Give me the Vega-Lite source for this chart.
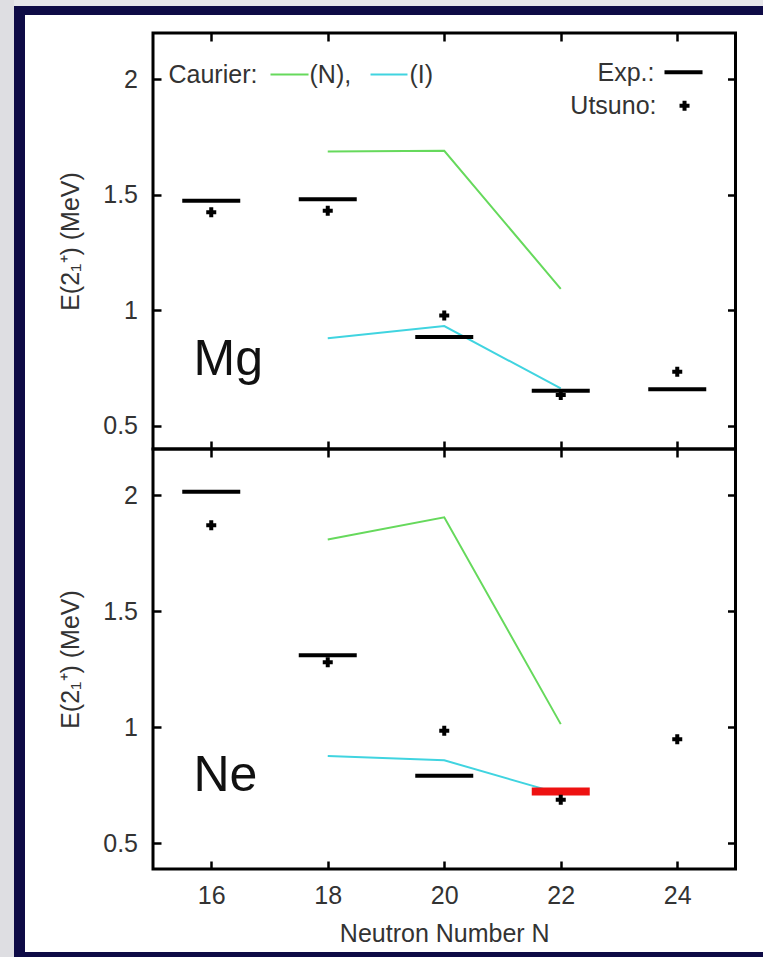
{
  "$schema": "https://vega.github.io/schema/vega-lite/v6.json",
  "background": "white",
  "padding": 0,
  "spacing": 0,
  "bounds": "flush",
  "config": {
    "view": {"stroke": null},
    "concat": {"spacing": 0},
    "axis": {
      "domain": false, "grid": false,
      "tickColor": "black", "tickWidth": 2.5, "tickSize": -8,
      "labelFont": "Liberation Sans", "labelFontSize": 25, "labelColor": "#333333",
      "titleFont": "Liberation Sans", "titleFontSize": 25, "titleFontWeight": "normal", "titleColor": "#333333"
    },
    "text": {"font": "Liberation Sans"}
  },
  "datasets": {
    "rows": [
      {"nucleus": "Mg", "source": "Exp", "N": 16, "E": 1.474},
      {"nucleus": "Mg", "source": "Exp", "N": 18, "E": 1.481},
      {"nucleus": "Mg", "source": "Exp", "N": 20, "E": 0.885},
      {"nucleus": "Mg", "source": "Exp", "N": 22, "E": 0.652},
      {"nucleus": "Mg", "source": "Exp", "N": 24, "E": 0.659},
      {"nucleus": "Mg", "source": "Utsuno", "N": 16, "E": 1.424},
      {"nucleus": "Mg", "source": "Utsuno", "N": 18, "E": 1.431},
      {"nucleus": "Mg", "source": "Utsuno", "N": 20, "E": 0.978},
      {"nucleus": "Mg", "source": "Utsuno", "N": 22, "E": 0.634},
      {"nucleus": "Mg", "source": "Utsuno", "N": 24, "E": 0.734},
      {"nucleus": "Mg", "source": "Caurier", "model": "N", "N": 18, "E": 1.687},
      {"nucleus": "Mg", "source": "Caurier", "model": "N", "N": 20, "E": 1.69},
      {"nucleus": "Mg", "source": "Caurier", "model": "N", "N": 22, "E": 1.093},
      {"nucleus": "Mg", "source": "Caurier", "model": "I", "N": 18, "E": 0.879},
      {"nucleus": "Mg", "source": "Caurier", "model": "I", "N": 20, "E": 0.932},
      {"nucleus": "Mg", "source": "Caurier", "model": "I", "N": 22, "E": 0.662},
      {"nucleus": "Ne", "source": "Exp", "N": 16, "E": 2.016},
      {"nucleus": "Ne", "source": "Exp", "N": 18, "E": 1.31},
      {"nucleus": "Ne", "source": "Exp", "N": 20, "E": 0.79},
      {"nucleus": "Ne", "source": "Exp", "status": "new", "N": 22, "E": 0.722},
      {"nucleus": "Ne", "source": "Utsuno", "N": 16, "E": 1.871},
      {"nucleus": "Ne", "source": "Utsuno", "N": 18, "E": 1.28},
      {"nucleus": "Ne", "source": "Utsuno", "N": 20, "E": 0.984},
      {"nucleus": "Ne", "source": "Utsuno", "N": 22, "E": 0.687},
      {"nucleus": "Ne", "source": "Utsuno", "N": 24, "E": 0.948},
      {"nucleus": "Ne", "source": "Caurier", "model": "N", "N": 18, "E": 1.81},
      {"nucleus": "Ne", "source": "Caurier", "model": "N", "N": 20, "E": 1.905},
      {"nucleus": "Ne", "source": "Caurier", "model": "N", "N": 22, "E": 1.013},
      {"nucleus": "Ne", "source": "Caurier", "model": "I", "N": 18, "E": 0.875},
      {"nucleus": "Ne", "source": "Caurier", "model": "I", "N": 20, "E": 0.857},
      {"nucleus": "Ne", "source": "Caurier", "model": "I", "N": 22, "E": 0.712}
    ]
  },
  "hconcat": [
    {"width": 14, "height": 957, "view": {"fill": "#dedee2", "stroke": null}, "data": {"values": [{"band": "left"}]}, "mark": {"type": "point", "opacity": 0}, "encoding": {}},
    {
      "spacing": 0, "bounds": "flush",
      "vconcat": [
        {"width": 749, "height": 6, "view": {"fill": "#e6e6ea", "stroke": null}, "data": {"values": [{"band": "top"}]}, "mark": {"type": "point", "opacity": 0}, "encoding": {}},
        {"width": 749, "height": 9, "view": {"fill": "#0e0b46", "stroke": null}, "data": {"values": [{"band": "top"}]}, "mark": {"type": "point", "opacity": 0}, "encoding": {}},
        {
          "spacing": 0, "bounds": "flush",
          "hconcat": [
            {"width": 11, "height": 942, "view": {"fill": "#0e0b46", "stroke": null}, "data": {"values": [{"band": "left"}]}, "mark": {"type": "point", "opacity": 0}, "encoding": {}},
            {
              "spacing": 0, "bounds": "flush",
              "vconcat": [
                {"width": 738, "height": 18, "data": {"values": [{"band": "gap"}]}, "mark": {"type": "point", "opacity": 0}, "encoding": {}},
                {
                  "spacing": 0, "bounds": "flush",
                  "hconcat": [
                    {"width": 127.5, "height": 836, "data": {"values": [{"band": "gap"}]}, "mark": {"type": "point", "opacity": 0}, "encoding": {}},
                    {
                      "spacing": 0, "bounds": "flush",
                      "vconcat": [
                        {
                          "width": 582.5, "height": 416,
                          "view": {"stroke": "black", "strokeWidth": 3},
                          "data": {"name": "rows"},
                          "transform": [{"filter": "datum.nucleus === 'Mg'"}],
                          "resolve": {"axis": {"x": "independent", "y": "independent"}},
                          "layer": [
                            {
                              "transform": [{"filter": "datum.source === 'Caurier'"}],
                              "mark": {"type": "line", "strokeWidth": 2},
                              "encoding": {
                                "x": {"field": "N", "type": "quantitative", "scale": {"domain": [15, 25], "nice": false, "zero": false},
                                      "axis": {"orient": "bottom", "values": [16, 18, 20, 22, 24], "labels": false, "title": null}},
                                "y": {"field": "E", "type": "quantitative", "scale": {"domain": [0.4, 2.2], "nice": false, "zero": false},
                                      "axis": {"orient": "left", "values": [0.5, 1, 1.5, 2], "format": "~g", "labelPadding": 23.5, "title": "E(2₁⁺)  (MeV)", "titlePadding": 19}},
                                "color": {"field": "model", "type": "nominal", "scale": {"domain": ["N", "I"], "range": ["#66d95c", "#40d4e0"]}, "legend": null}
                              }
                            },
                            {
                              "transform": [{"filter": "datum.source === 'Exp'"}],
                              "mark": {"type": "tick", "orient": "horizontal", "size": 58, "thickness": 4, "color": "black", "opacity": 1},
                              "encoding": {
                                "x": {"field": "N", "type": "quantitative", "scale": {"domain": [15, 25], "nice": false, "zero": false},
                                      "axis": {"orient": "top", "values": [16, 18, 20, 22, 24], "labels": false, "title": null}},
                                "y": {"field": "E", "type": "quantitative", "scale": {"domain": [0.4, 2.2], "nice": false, "zero": false},
                                      "axis": {"orient": "right", "values": [0.5, 1, 1.5, 2], "labels": false, "title": null}}
                              }
                            },
                            {
                              "transform": [{"filter": "datum.source === 'Utsuno'"}],
                              "mark": {"type": "point", "shape": "cross", "filled": true, "size": 100, "color": "black", "opacity": 1},
                              "encoding": {
                                "x": {"field": "N", "type": "quantitative", "axis": null},
                                "y": {"field": "E", "type": "quantitative", "axis": null}
                              }
                            },
                            {
                              "transform": [{"aggregate": [{"op": "count", "as": "n"}], "groupby": ["nucleus"]}],
                              "mark": {"type": "text", "align": "left", "baseline": "alphabetic", "fontSize": 50, "color": "#111111"},
                              "encoding": {
                                "x": {"datum": 15.695, "type": "quantitative", "axis": null},
                                "y": {"datum": 0.72, "type": "quantitative", "axis": null},
                                "text": {"field": "nucleus"}
                              }
                            },
                            {
                              "transform": [{"aggregate": [{"op": "count", "as": "n"}], "groupby": ["nucleus"]}],
                              "mark": {"type": "text", "align": "left", "baseline": "middle", "fontSize": 25, "color": "#333333", "text": "Caurier:"},
                              "encoding": {
                                "x": {"datum": 15.266, "type": "quantitative", "axis": null},
                                "y": {"datum": 2.02, "type": "quantitative", "axis": null}
                              }
                            },
                            {
                              "transform": [{"aggregate": [{"op": "count", "as": "n"}], "groupby": ["nucleus"]}],
                              "mark": {"type": "rule", "color": "#66d95c", "strokeWidth": 2},
                              "encoding": {
                                "x": {"datum": 17.017, "type": "quantitative", "axis": null},
                                "x2": {"datum": 17.67},
                                "y": {"datum": 2.02, "type": "quantitative", "axis": null}
                              }
                            },
                            {
                              "transform": [{"aggregate": [{"op": "count", "as": "n"}], "groupby": ["nucleus"]}],
                              "mark": {"type": "text", "align": "left", "baseline": "middle", "fontSize": 25, "color": "#333333", "text": "(N),"},
                              "encoding": {
                                "x": {"datum": 17.687, "type": "quantitative", "axis": null},
                                "y": {"datum": 2.02, "type": "quantitative", "axis": null}
                              }
                            },
                            {
                              "transform": [{"aggregate": [{"op": "count", "as": "n"}], "groupby": ["nucleus"]}],
                              "mark": {"type": "rule", "color": "#40d4e0", "strokeWidth": 2},
                              "encoding": {
                                "x": {"datum": 18.734, "type": "quantitative", "axis": null},
                                "x2": {"datum": 19.369},
                                "y": {"datum": 2.02, "type": "quantitative", "axis": null}
                              }
                            },
                            {
                              "transform": [{"aggregate": [{"op": "count", "as": "n"}], "groupby": ["nucleus"]}],
                              "mark": {"type": "text", "align": "left", "baseline": "middle", "fontSize": 25, "color": "#333333", "text": "(I)"},
                              "encoding": {
                                "x": {"datum": 19.403, "type": "quantitative", "axis": null},
                                "y": {"datum": 2.02, "type": "quantitative", "axis": null}
                              }
                            },
                            {
                              "transform": [{"aggregate": [{"op": "count", "as": "n"}], "groupby": ["nucleus"]}],
                              "mark": {"type": "text", "align": "right", "baseline": "middle", "fontSize": 25, "color": "#333333", "text": "Exp.:"},
                              "encoding": {
                                "x": {"datum": 23.609, "type": "quantitative", "axis": null},
                                "y": {"datum": 2.025, "type": "quantitative", "axis": null}
                              }
                            },
                            {
                              "transform": [{"aggregate": [{"op": "count", "as": "n"}], "groupby": ["nucleus"]}],
                              "mark": {"type": "rule", "color": "black", "strokeWidth": 4},
                              "encoding": {
                                "x": {"datum": 23.781, "type": "quantitative", "axis": null},
                                "x2": {"datum": 24.434},
                                "y": {"datum": 2.03, "type": "quantitative", "axis": null}
                              }
                            },
                            {
                              "transform": [{"aggregate": [{"op": "count", "as": "n"}], "groupby": ["nucleus"]}],
                              "mark": {"type": "text", "align": "right", "baseline": "middle", "fontSize": 25, "color": "#333333", "text": "Utsuno:"},
                              "encoding": {
                                "x": {"datum": 23.644, "type": "quantitative", "axis": null},
                                "y": {"datum": 1.885, "type": "quantitative", "axis": null}
                              }
                            },
                            {
                              "transform": [{"aggregate": [{"op": "count", "as": "n"}], "groupby": ["nucleus"]}],
                              "mark": {"type": "point", "shape": "cross", "filled": true, "size": 100, "color": "black", "opacity": 1},
                              "encoding": {
                                "x": {"datum": 24.125, "type": "quantitative", "axis": null},
                                "y": {"datum": 1.885, "type": "quantitative", "axis": null}
                              }
                            }
                          ]
                        },
                        {
                          "width": 582.5, "height": 420,
                          "view": {"stroke": "black", "strokeWidth": 3},
                          "data": {"name": "rows"},
                          "transform": [{"filter": "datum.nucleus === 'Ne'"}],
                          "resolve": {"axis": {"x": "independent", "y": "independent"}},
                          "layer": [
                            {
                              "transform": [{"filter": "datum.source === 'Caurier'"}],
                              "mark": {"type": "line", "strokeWidth": 2},
                              "encoding": {
                                "x": {"field": "N", "type": "quantitative", "scale": {"domain": [15, 25], "nice": false, "zero": false},
                                      "axis": {"orient": "bottom", "values": [16, 18, 20, 22, 24], "format": "d", "labelPadding": 22, "title": "Neutron Number N", "titlePadding": 13}},
                                "y": {"field": "E", "type": "quantitative", "scale": {"domain": [0.388, 2.2], "nice": false, "zero": false},
                                      "axis": {"orient": "left", "values": [0.5, 1, 1.5, 2], "format": "~g", "labelPadding": 23.5, "title": "E(2₁⁺)  (MeV)", "titlePadding": 19}},
                                "color": {"field": "model", "type": "nominal", "scale": {"domain": ["N", "I"], "range": ["#66d95c", "#40d4e0"]}, "legend": null}
                              }
                            },
                            {
                              "transform": [{"filter": "datum.source === 'Exp' && datum.status !== 'new'"}],
                              "mark": {"type": "tick", "orient": "horizontal", "size": 58, "thickness": 4, "color": "black", "opacity": 1},
                              "encoding": {
                                "x": {"field": "N", "type": "quantitative", "scale": {"domain": [15, 25], "nice": false, "zero": false},
                                      "axis": {"orient": "top", "values": [16, 18, 20, 22, 24], "labels": false, "title": null}},
                                "y": {"field": "E", "type": "quantitative", "scale": {"domain": [0.388, 2.2], "nice": false, "zero": false},
                                      "axis": {"orient": "right", "values": [0.5, 1, 1.5, 2], "labels": false, "title": null}}
                              }
                            },
                            {
                              "transform": [{"filter": "datum.source === 'Exp' && datum.status === 'new'"}],
                              "mark": {"type": "tick", "orient": "horizontal", "size": 58, "thickness": 8, "color": "#ee1111", "opacity": 1},
                              "encoding": {
                                "x": {"field": "N", "type": "quantitative", "axis": null},
                                "y": {"field": "E", "type": "quantitative", "axis": null}
                              }
                            },
                            {
                              "transform": [{"filter": "datum.source === 'Utsuno'"}],
                              "mark": {"type": "point", "shape": "cross", "filled": true, "size": 100, "color": "black", "opacity": 1},
                              "encoding": {
                                "x": {"field": "N", "type": "quantitative", "axis": null},
                                "y": {"field": "E", "type": "quantitative", "axis": null}
                              }
                            },
                            {
                              "transform": [{"aggregate": [{"op": "count", "as": "n"}], "groupby": ["nucleus"]}],
                              "mark": {"type": "text", "align": "left", "baseline": "alphabetic", "fontSize": 50, "color": "#111111"},
                              "encoding": {
                                "x": {"datum": 15.695, "type": "quantitative", "axis": null},
                                "y": {"datum": 0.724, "type": "quantitative", "axis": null},
                                "text": {"field": "nucleus"}
                              }
                            }
                          ]
                        }
                      ]
                    }
                  ]
                },
                {"width": 738, "height": 919, "data": {"values": [{"band": "gap"}]}, "mark": {"type": "point", "opacity": 0}, "encoding": {}},
                {"width": 738, "height": 5, "view": {"fill": "#0e0b46", "stroke": null}, "data": {"values": [{"band": "bottom"}]}, "mark": {"type": "point", "opacity": 0}, "encoding": {}}
              ]
            }
          ]
        }
      ]
    }
  ]
}
